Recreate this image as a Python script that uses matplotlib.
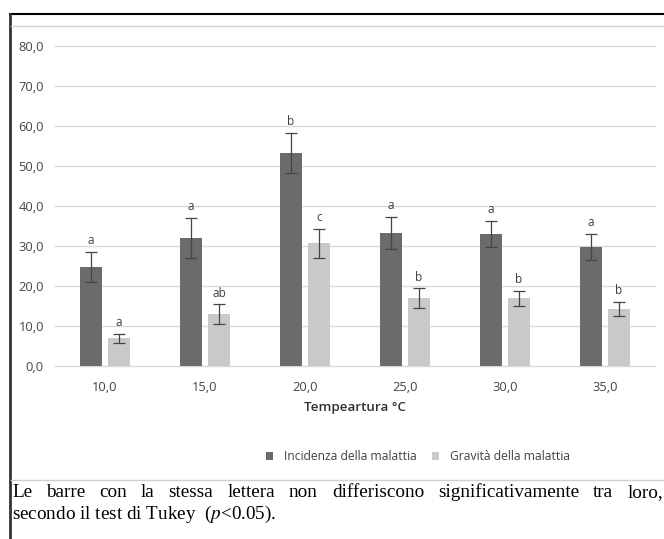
import matplotlib
matplotlib.use("Agg")
import matplotlib.pyplot as plt
from matplotlib.lines import Line2D
import numpy as np

temps = ["10,0", "15,0", "20,0", "25,0", "30,0", "35,0"]
incidenza = [24.8, 32.1, 53.3, 33.3, 33.0, 29.8]
incidenza_err = [3.7, 5.0, 5.0, 4.0, 3.3, 3.2]
incidenza_let = ["a", "a", "b", "a", "a", "a"]
gravita = [6.9, 13.0, 30.7, 16.9, 16.9, 14.3]
gravita_err = [1.2, 2.4, 3.6, 2.5, 1.9, 1.8]
gravita_let = ["a", "ab", "c", "b", "b", "b"]

W, H = 664, 539
fig = plt.figure(figsize=(W / 100, H / 100), dpi=100)
plt.rcParams['font.family'] = ['Open Sans', 'DejaVu Sans']
plt.rcParams['mathtext.fontset'] = 'stix'

ax = fig.add_axes([55 / W, 1 - 366 / H, 600 / W, 320 / H])
x = np.arange(len(temps))
w = 0.225
off = 0.14
dark = '#6b6b6b'
light = '#c9c9c9'
ax.bar(x - off, incidenza, width=w, color=dark, zorder=3, label='Incidenza della malattia')
ax.bar(x + off, gravita, width=w, color=light, zorder=3, label='Gravità della malattia')
ax.errorbar(x - off, incidenza, yerr=incidenza_err, fmt='none', ecolor='#444444',
            elinewidth=0.9, capsize=4, capthick=0.9, zorder=4)
ax.errorbar(x + off, gravita, yerr=gravita_err, fmt='none', ecolor='#444444',
            elinewidth=0.9, capsize=4, capthick=0.9, zorder=4)

for i in range(len(temps)):
    ax.text(x[i] - off, incidenza[i] + incidenza_err[i] + 1.2, incidenza_let[i],
            ha='center', va='bottom', fontsize=8.5, color='#404040')
    ax.text(x[i] + off, gravita[i] + gravita_err[i] + 1.2, gravita_let[i],
            ha='center', va='bottom', fontsize=8.5, color='#404040')

ax.set_xlim(-0.5, len(temps) - 0.5)
ax.set_ylim(0, 80)
ax.set_yticks(np.arange(0, 81, 10))
ax.set_yticklabels(["%d,0" % v for v in range(0, 81, 10)])
ax.set_xticks(x)
ax.set_xticklabels(temps)
ax.tick_params(axis='both', length=0, labelsize=9.3, labelcolor='#454545')
ax.tick_params(axis='y', pad=8)
ax.tick_params(axis='x', pad=11)
ax.grid(axis='y', color='#d9d9d9', linewidth=1, zorder=0)
ax.set_axisbelow(True)
for s in ax.spines.values():
    s.set_visible(False)
for gl in ax.get_ygridlines():
    gl.set_clip_on(False)
ax.set_xlabel('Tempeartura °C', fontsize=9.6, color='#303030', fontweight='semibold', labelpad=5)

fig.legend(loc='center', bbox_to_anchor=(418 / W, 1 - 457 / H), ncol=2, frameon=False,
           fontsize=8.7, handlelength=0.6, handleheight=0.6, columnspacing=1.3,
           handletextpad=0.9, labelcolor='#404040')

# frame lines of the page
fig.add_artist(Line2D([10 / W, 1], [1 - 14 / H, 1 - 14 / H], color='black', lw=1.5))
fig.add_artist(Line2D([10 / W, 10 / W], [0, 1 - 14 / H], color='#333333', lw=2))
fig.add_artist(Line2D([11 / W, 1], [1 - 26 / H, 1 - 26 / H], color='#d0d0d0', lw=1))
fig.add_artist(Line2D([11 / W, 1], [1 - 480 / H, 1 - 480 / H], color='#d0d0d0', lw=1))

# caption, first line justified
line1 = "Le barre con la stessa lettera non differiscono significativamente tra loro,".split()
cap_kw = dict(fontsize=13.8, family='Liberation Serif', color='black', va='baseline')
fig.canvas.draw()
r = fig.canvas.get_renderer()
ts = [fig.text(0, 0, wd, **cap_kw) for wd in line1]
widths = [t.get_window_extent(r).width for t in ts]
x0, x1 = 12, 663
gap = (x1 - x0 - sum(widths)) / (len(line1) - 1)
px = x0
for t, wd in zip(ts, widths):
    t.set_position((px / W, 1 - 497 / H))
    px += wd + gap
fig.text(12 / W, 1 - 519 / H, "secondo il test di Tukey  ($\\it{p}$<0.05).", **cap_kw)

fig.savefig('out.png', dpi=100)
